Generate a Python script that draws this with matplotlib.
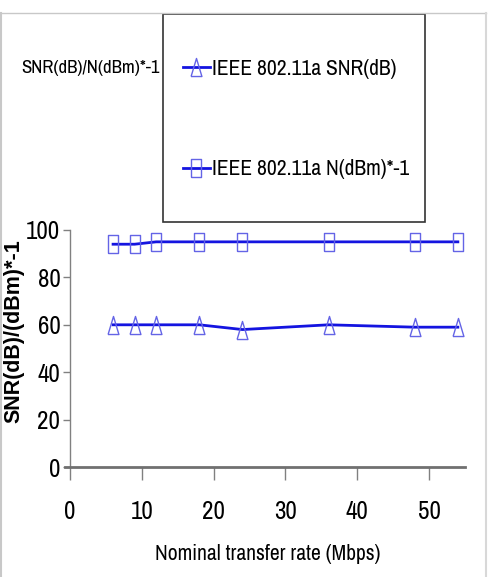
import matplotlib
matplotlib.use("Agg")
import matplotlib.pyplot as plt
from matplotlib import font_manager
from matplotlib.patches import Rectangle
from matplotlib.lines import Line2D

# data
rate = [6, 9, 12, 18, 24, 36, 48, 54]
snr_db = [60, 60, 60, 60, 58, 60, 59, 59]
noise_neg = [94, 94, 95, 95, 95, 95, 95, 95]
y_ticks = [0, 20, 40, 60, 80, 100]
x_ticks = [0, 10, 20, 30, 40, 50]

# narrow font like Arial Narrow, take the first one that is there
have = set(f.name for f in font_manager.fontManager.ttflist)
narrow = 'DejaVu Sans'
for cand in ['Liberation Sans Narrow', 'Arial Narrow', 'Archivo Narrow', 'PT Sans Narrow',
             'Roboto Condensed', 'Sofia Sans Condensed', 'Barlow Semi Condensed']:
    if cand in have:
        narrow = cand
        break
plt.rcParams['font.family'] = [narrow, 'DejaVu Sans']

line_col = '#1414e0'
mark_col = '#6464e6'

# tall open markers (the picture is stretched vertically)
tri = [(-0.3, -0.5), (0.3, -0.5), (0.0, 0.5), (-0.3, -0.5)]
sq = [(-0.3, -0.5), (0.3, -0.5), (0.3, 0.5), (-0.3, 0.5), (-0.3, -0.5)]

fig = plt.figure(figsize=(4.89, 5.77), dpi=100)

# outer frame lines
fig.add_artist(Line2D([0.0, 0.994], [0.977, 0.977], transform=fig.transFigure, color='#c8c8c8', lw=1))
fig.add_artist(Line2D([0.002, 0.002], [0.0, 0.977], transform=fig.transFigure, color='#c8c8c8', lw=1.5))
fig.add_artist(Line2D([0.993, 0.993], [0.0, 0.977], transform=fig.transFigure, color='#d8d8d8', lw=1.5))

ax = fig.add_axes([0.1431, 0.1906, 0.8079, 0.4108])
l1, = ax.plot(rate, snr_db, color=line_col, lw=2, marker=tri, markersize=13,
              markerfacecolor='none', markeredgecolor=mark_col, markeredgewidth=1)
l2, = ax.plot(rate, noise_neg, color=line_col, lw=2, marker=sq, markersize=13,
              markerfacecolor='none', markeredgecolor=mark_col, markeredgewidth=1)

ax.set_xlim(0, 55)
ax.set_ylim(0, 100)
ax.set_xticks(x_ticks)
ax.set_yticks(y_ticks)
for s in ['top', 'right']:
    ax.spines[s].set_visible(False)
ax.spines['left'].set_color('#808080')
ax.spines['left'].set_linewidth(1)
ax.spines['bottom'].set_color('#707070')
ax.spines['bottom'].set_linewidth(2)
ax.spines['bottom'].set_bounds(-0.7, 55)
ax.tick_params(axis='y', direction='out', length=5, width=1, color='#808080',
               labelsize=18, pad=2)
ax.tick_params(axis='x', direction='out', length=9, width=1, color='#808080',
               labelsize=18, pad=15)
ax.set_xlabel('Nominal transfer rate (Mbps)', fontsize=15.5, labelpad=15)
ax.set_ylabel('SNR(dB)/(dBm)*-1', fontsize=15.5, fontweight='bold',
              family=['Liberation Sans', 'DejaVu Sans'])
ax.yaxis.label.set_verticalalignment('center')
ax.yaxis.set_label_coords(-0.1418, 0.574)

# legend area
fig.add_artist(Rectangle((0.3333, 0.6153), 0.5358, 0.3604, transform=fig.transFigure,
                         fill=False, edgecolor='#333333', lw=1.2))
fig.legend([l1, l2], ['IEEE 802.11a SNR(dB)', 'IEEE 802.11a N(dBm)*-1'],
           loc='center left', bbox_to_anchor=(0.374, 0.7938), frameon=False,
           fontsize=15.5, handlelength=1.25, handletextpad=0.12, labelspacing=3.75,
           borderpad=0, borderaxespad=0)
fig.text(0.326, 0.882, 'SNR(dB)/N(dBm)*-1', ha='right', va='center', fontsize=13.5)

plt.savefig('out.png', dpi=100)
